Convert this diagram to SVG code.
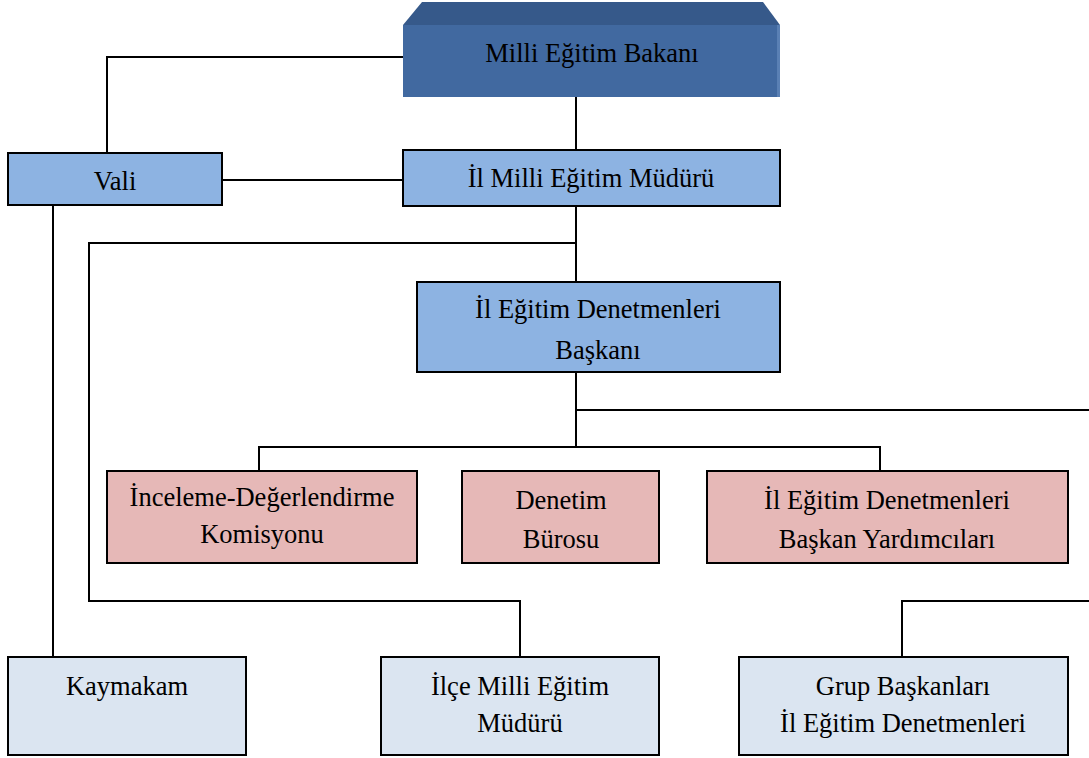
<svg xmlns="http://www.w3.org/2000/svg" width="1089" height="758" viewBox="0 0 1089 758">
  <style>
    .box { stroke: #000; stroke-width: 2; }
    .blue { fill: #8DB3E2; }
    .pink { fill: #E6B8B7; }
    .pale { fill: #DBE5F1; }
    .lbl { font-family: "Liberation Serif", "Times New Roman", "DejaVu Serif", serif; font-size: 26.5px; fill: #000; text-anchor: middle; }
    .wire { fill: none; stroke: #000; stroke-width: 2; }
  </style>

  <rect width="1089" height="758" fill="#fff"/>

  <!-- connectors -->
  <g id="connectors" class="wire">
    <path d="M403,57 H107 V153"/>
    <path d="M576,97 V150"/>
    <path d="M222,180 H403"/>
    <path d="M53,205 V657"/>
    <path d="M576,206 V282"/>
    <path d="M576,243 H89 V601 H520 V657"/>
    <path d="M576,372 V447"/>
    <path d="M259,471 V447 H880 V471"/>
    <path d="M576,410 H1090"/>
    <path d="M902,657 V601 H1090"/>
  </g>

  <!-- minister: bevelled block -->
  <g id="bakan">
    <polygon points="403,25 422,2 763,2 780,25" fill="#36598A"/>
    <rect x="403" y="25" width="377" height="72" fill="#4169A0"/>
    <rect x="777" y="25" width="3" height="72" fill="#5A80B4"/>
    <text class="lbl" x="592" y="62">Milli Eğitim Bakanı</text>
  </g>

  <g id="vali">
    <rect class="box blue" x="8" y="153" width="214" height="52"/>
    <text class="lbl" x="115" y="190">Vali</text>
  </g>

  <g id="il-mudur">
    <rect class="box blue" x="403" y="150" width="377" height="56"/>
    <text class="lbl" x="591" y="187">İl Milli Eğitim Müdürü</text>
  </g>

  <g id="denetmenler-baskani">
    <rect class="box blue" x="417" y="282" width="363" height="90"/>
    <text class="lbl" x="598" y="318">İl Eğitim Denetmenleri</text>
    <text class="lbl" x="598" y="359">Başkanı</text>
  </g>

  <g id="inceleme">
    <rect class="box pink" x="107" y="471" width="310" height="92"/>
    <text class="lbl" x="262" y="506">İnceleme-Değerlendirme</text>
    <text class="lbl" x="262" y="543">Komisyonu</text>
  </g>

  <g id="denetim-burosu">
    <rect class="box pink" x="462" y="471" width="197" height="92"/>
    <text class="lbl" x="561" y="509">Denetim</text>
    <text class="lbl" x="561" y="548">Bürosu</text>
  </g>

  <g id="baskan-yardimcilari">
    <rect class="box pink" x="707" y="471" width="361" height="92"/>
    <text class="lbl" x="887" y="509">İl Eğitim Denetmenleri</text>
    <text class="lbl" x="887" y="548">Başkan Yardımcıları</text>
  </g>

  <g id="kaymakam">
    <rect class="box pale" x="8" y="657" width="238" height="98"/>
    <text class="lbl" x="127" y="695">Kaymakam</text>
  </g>

  <g id="ilce-mudur">
    <rect class="box pale" x="381" y="657" width="278" height="98"/>
    <text class="lbl" x="520" y="695">İlçe Milli Eğitim</text>
    <text class="lbl" x="520" y="732">Müdürü</text>
  </g>

  <g id="grup-baskanlari">
    <rect class="box pale" x="739" y="657" width="329" height="98"/>
    <text class="lbl" x="903" y="695">Grup Başkanları</text>
    <text class="lbl" x="903" y="732">İl Eğitim Denetmenleri</text>
  </g>
</svg>
